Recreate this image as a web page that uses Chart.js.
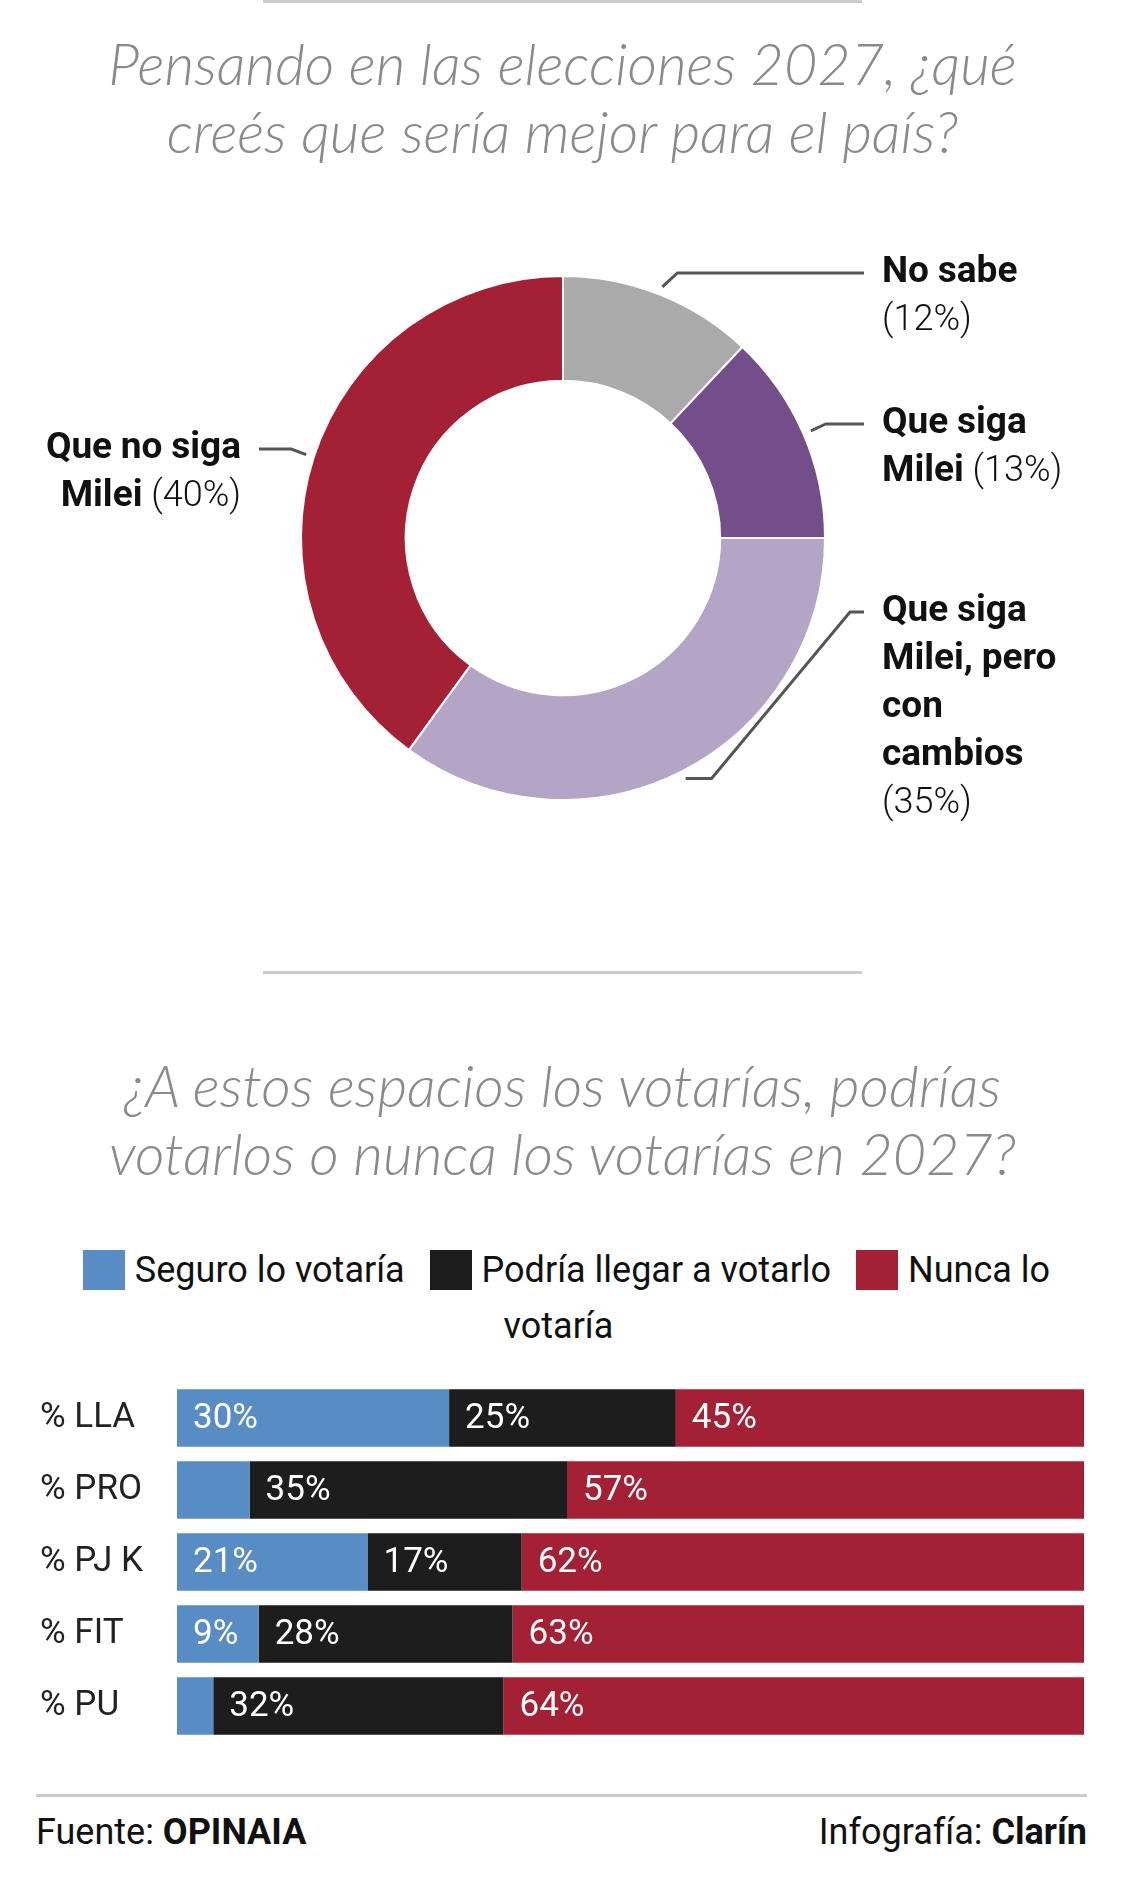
<!DOCTYPE html>
<html lang="es">
<head>
<meta charset="utf-8">
<title>Elecciones 2027</title>
<script src="https://cdn.jsdelivr.net/npm/chart.js@4.4.1/dist/chart.umd.min.js"></script>
<style>
  html, body { margin: 0; padding: 0; background: #fff; }
  body { width: 1125px; height: 1879px; position: relative; overflow: hidden; font-family: Roboto, "Noto Sans", sans-serif; color: #111; }
  .regla { position: absolute; height: 3px; background: #cccccc; }
  .titulo { position: absolute; left: 0; width: 1125px; text-align: center; font-family: Lato, sans-serif; font-style: italic; font-weight: 300; font-size: 57.5px; line-height: 68px; color: #8a8a8a; }
  canvas { position: absolute; left: 0; }
  #leyenda { position: absolute; top: 1242px; left: 30px; width: 1065px; text-align: center; font-size: 36px; line-height: 56px; color: #111; }
  #leyenda .item { margin: 0 8px; }
  #leyenda .caja { display: inline-block; width: 42px; height: 40px; vertical-align: -8px; margin-right: 10px; }
  .pie { position: absolute; top: 1809px; font-size: 36px; line-height: 46px; color: #111; }
  .pie b { font-weight: 700; }
</style>
</head>
<body>
<div class="regla" style="top:0; left:263px; width:599px;"></div>
<div class="titulo" style="top:29px;">Pensando en las elecciones 2027, ¿qué<br>creés que sería mejor para el país?</div>
<canvas id="dona" width="1125" height="700" style="top:220px;"></canvas>

<div class="regla" style="top:971px; left:263px; width:599px;"></div>
<div class="titulo" style="top:1051px;">¿A estos espacios los votarías, podrías<br>votarlos o nunca los votarías en 2027?</div>
<div id="leyenda"></div>
<canvas id="barras" width="1125" height="408" style="top:1358px;"></canvas>

<div class="regla" style="top:1794px; left:36px; width:1051px;"></div>
<div class="pie" style="left:36px;">Fuente: <b>OPINAIA</b></div>
<div class="pie" style="right:38px;">Infografía: <b>Clarín</b></div>

<script>
// Datos de la dona
const opciones = ['No sabe', 'Que siga Milei', 'Que siga Milei, pero con cambios', 'Que no siga Milei'];
const opcionesValores = [12, 13, 35, 40];
const opcionesColores = ['#aaaaaa', '#744e8a', '#b4a4c6', '#a32035'];

// Datos de las barras
const espacios = ['% LLA', '% PRO', '% PJ K', '% FIT', '% PU'];
const seguro = [30, 8, 21, 9, 4];
const podria = [25, 35, 17, 28, 32];
const nunca = [45, 57, 62, 63, 64];
const series = ['Seguro lo votaría', 'Podría llegar a votarlo', 'Nunca lo votaría'];
const seriesColores = ['#588cc4', '#1d1d1d', '#a32035'];

const FUENTE = 'Roboto, "Noto Sans", sans-serif';

// Ubicación de cada rótulo de la dona (en px del canvas)
const rotulos = [
  { lado: 'der', x: 882, y: 53, ancho: 200 },
  { lado: 'der', x: 882, y: 204, ancho: 200 },
  { lado: 'der', x: 882, y: 392, ancho: 200, ruta: 'abajo' },
  { lado: 'izq', x: 241, y: 229, ancho: 228 }
];

// Arma las líneas con palabras en negrita y el porcentaje en normal
function armarLineas(ctx, nombre, valor, ancho) {
  const negrita = `700 37px ${FUENTE}`;
  const normal = `300 36px ${FUENTE}`;
  const palabras = nombre.split(' ').map(p => ({ t: p, f: negrita }));
  palabras.push({ t: `(${valor}%)`, f: normal });
  ctx.font = normal;
  const espacio = ctx.measureText(' ').width;
  const lineas = [];
  let actual = [], w = 0;
  palabras.forEach(p => {
    ctx.font = p.f;
    const pw = ctx.measureText(p.t).width;
    const nuevo = actual.length ? w + espacio + pw : pw;
    if (actual.length && nuevo > ancho) {
      lineas.push({ partes: actual, w: w });
      actual = [p]; w = pw;
    } else {
      actual.push(p); w = nuevo;
    }
    p.w = pw;
  });
  if (actual.length) lineas.push({ partes: actual, w: w });
  return { lineas, espacio };
}

const rotulosDona = {
  id: 'rotulosDona',
  afterDraw(chart) {
    const ctx = chart.ctx;
    const arcos = chart.getDatasetMeta(0).data;
    ctx.save();
    arcos.forEach((arco, i) => {
      const r = rotulos[i];
      const medio = (arco.startAngle + arco.endAngle) / 2;
      const sx = arco.x + Math.cos(medio) * (arco.outerRadius + 8);
      const sy = arco.y + Math.sin(medio) * (arco.outerRadius + 8);
      const dir = r.lado === 'der' ? 1 : -1;
      const fin = r.x - dir * 18;

      ctx.strokeStyle = '#555555';
      ctx.lineWidth = 3;
      ctx.beginPath();
      ctx.moveTo(sx, sy);
      if (r.ruta === 'abajo') {
        ctx.lineTo(sx + 26, sy);
        ctx.lineTo(fin - 14, r.y);
      } else {
        ctx.lineTo(sx + dir * 15, r.y);
      }
      ctx.lineTo(fin, r.y);
      ctx.stroke();

      const { lineas, espacio } = armarLineas(ctx, opciones[i], opcionesValores[i], r.ancho);
      ctx.fillStyle = '#111111';
      ctx.textBaseline = 'middle';
      ctx.textAlign = 'left';
      lineas.forEach((linea, j) => {
        let x = r.lado === 'der' ? r.x : r.x - linea.w;
        const y = r.y + j * 48;
        linea.partes.forEach(p => {
          ctx.font = p.f;
          ctx.fillText(p.t, x, y);
          x += p.w + espacio;
        });
      });
    });
    ctx.restore();
  }
};

new Chart(document.getElementById('dona'), {
  type: 'doughnut',
  data: {
    labels: opciones,
    datasets: [{
      data: opcionesValores,
      backgroundColor: opcionesColores,
      borderColor: '#ffffff',
      borderWidth: 2
    }]
  },
  options: {
    responsive: false,
    animation: false,
    cutout: '60%',
    layout: { padding: { left: 300, right: 299, top: 55, bottom: 119 } },
    plugins: { legend: { display: false }, tooltip: { enabled: false } }
  },
  plugins: [rotulosDona]
});

// Leyenda en HTML, para que "Nunca lo votaría" corte como en el original
document.getElementById('leyenda').innerHTML = series.map((s, i) => {
  const [primera, ...resto] = s.split(' ');
  return `<span class="item"><span style="white-space:nowrap"><span class="caja" style="background:${seriesColores[i]}"></span>${primera}</span> ${resto.join(' ')}</span>`;
}).join(' ');

const valoresBarras = {
  id: 'valoresBarras',
  afterDatasetsDraw(chart) {
    const ctx = chart.ctx;
    ctx.save();
    ctx.font = `400 35px ${FUENTE}`;
    ctx.fillStyle = '#ffffff';
    ctx.textAlign = 'left';
    ctx.textBaseline = 'middle';
    chart.data.datasets.forEach((ds, d) => {
      chart.getDatasetMeta(d).data.forEach((barra, i) => {
        const v = ds.data[i];
        if (v < 9) return;
        ctx.fillText(`${v}%`, Math.min(barra.base, barra.x) + 16, barra.y + 1);
      });
    });
    ctx.restore();
  }
};

new Chart(document.getElementById('barras'), {
  type: 'bar',
  data: {
    labels: espacios,
    datasets: [seguro, podria, nunca].map((datos, i) => ({
      label: series[i],
      data: datos,
      backgroundColor: seriesColores[i],
      borderWidth: 0,
      barPercentage: 0.8,
      categoryPercentage: 1
    }))
  },
  options: {
    indexAxis: 'y',
    responsive: false,
    animation: false,
    layout: { padding: { left: 40, right: 41, top: 21, bottom: 21 } },
    scales: {
      x: { stacked: true, min: 0, max: 100, display: false },
      y: {
        stacked: true,
        grid: { display: false },
        border: { display: false },
        ticks: { crossAlign: 'far', color: '#222222', font: { family: FUENTE, size: 35, weight: '400', lineHeight: 1.2 } },
        afterFit(scale) { scale.width = 137; }
      }
    },
    plugins: { legend: { display: false }, tooltip: { enabled: false } }
  },
  plugins: [valoresBarras]
});
</script>
</body>
</html>
